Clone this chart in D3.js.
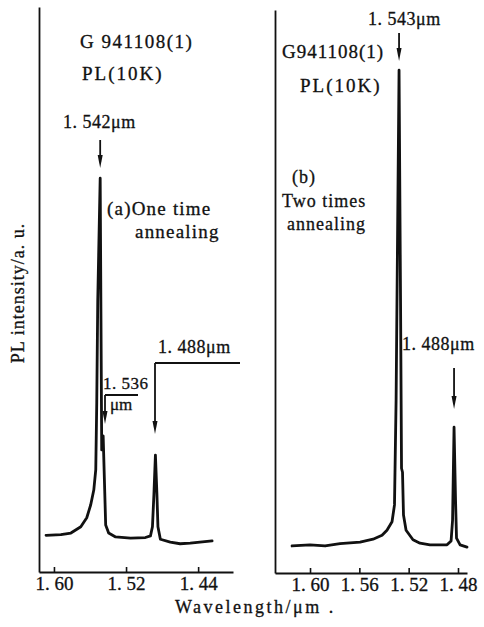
<!DOCTYPE html>
<html>
<head>
<meta charset="utf-8">
<script src="https://cdn.jsdelivr.net/npm/d3@7/dist/d3.min.js"></script>
<style>
  body { margin: 0; background: #fff; }
  svg text { font-family: "Liberation Serif", "Times New Roman", serif; fill: #111; stroke: #111; stroke-width: 0.3; }
</style>
</head>
<body>
<div id="chart"></div>
<script>
// (a) one time annealing - wavelength (um) and PL intensity (a.u.)
let waveA = [1.6088, 1.5923, 1.5812, 1.5702, 1.5636, 1.5592, 1.5558, 1.5536, 1.5525, 1.5514, 1.5487,
  1.5470, 1.5454, 1.5437, 1.5426, 1.5393, 1.5316, 1.5150, 1.4985, 1.4929, 1.4907, 1.4891, 1.4874,
  1.4857, 1.4846, 1.4819, 1.4709, 1.4600, 1.4488, 1.4245];
let intA = [6.5, 6.6, 6.9, 8.0, 9.6, 11.9, 14.5, 18.1, 30.0, 48.1, 69.7,
  21.6, 24.1, 14.5, 8.3, 6.9, 6.2, 6.0, 6.1, 6.4, 8.0, 13.6, 20.7,
  13.6, 8.0, 5.8, 5.3, 5.0, 5.1, 5.5];

// (b) two times annealing
let waveB = [1.6146, 1.6000, 1.5878, 1.5757, 1.5594, 1.5489, 1.5416, 1.5376, 1.5335, 1.5315, 1.5302,
  1.5278, 1.5266, 1.5258, 1.5250, 1.5242, 1.5221, 1.5165, 1.5108, 1.5027, 1.4889, 1.4856, 1.4844,
  1.4832, 1.4820, 1.4812, 1.4783, 1.4727];
let intB = [4.8, 5.0, 4.8, 5.2, 5.5, 6.0, 6.7, 7.6, 9.1, 12.1, 30.7,
  89.3, 48.5, 18.6, 17.9, 10.3, 7.6, 5.9, 5.3, 5.0, 5.0, 5.7, 9.4,
  25.9, 13.0, 6.2, 5.0, 4.6];

let ticksA = [1.60, 1.52, 1.44];
let ticksB = [1.60, 1.56, 1.52, 1.48];

let svg = d3.select("#chart").append("svg")
  .attr("width", 484)
  .attr("height", 627);

let fmt = d => "1. " + d3.format(".2f")(d).slice(2);

function panel(waves, ints, ticks, xDomain, xRange, yRange) {
  let x = d3.scaleLinear().domain(xDomain).range(xRange);
  let y = d3.scaleLinear().domain([0, 100]).range(yRange);

  // x axis with small ticks pointing inward
  let gx = svg.append("g")
    .attr("transform", "translate(0," + yRange[0] + ")")
    .call(d3.axisBottom(x).tickValues(ticks).tickFormat(fmt)
      .tickSizeInner(-5).tickSizeOuter(0).tickPadding(5));
  gx.select(".domain").attr("stroke", "#111").attr("stroke-width", 2.2);
  gx.selectAll(".tick line").attr("stroke", "#111").attr("stroke-width", 1.6);
  gx.selectAll(".tick text")
    .attr("font-size", 19)
    .attr("font-family", "Liberation Serif")
    .attr("fill", "#111");

  // y axis, plain line
  let gy = svg.append("g")
    .attr("transform", "translate(" + xRange[0] + ",0)")
    .call(d3.axisLeft(y).tickValues([]).tickSizeOuter(0));
  gy.select(".domain").attr("stroke", "#111").attr("stroke-width", 1.8);

  let pts = waves.map((w, i) => [w, ints[i]]);
  let line = d3.line()
    .x(d => x(d[0]))
    .y(d => y(d[1]));

  svg.append("path")
    .datum(pts)
    .attr("d", line)
    .attr("fill", "none")
    .attr("stroke", "#111")
    .attr("stroke-width", 2.8)
    .attr("stroke-linejoin", "round")
    .attr("stroke-linecap", "round");

  return { x: x, y: y };
}

let pa = panel(waveA, intA, ticksA, [1.6166, 1.4013], [39, 233], [572, 7]);
let pb = panel(waveB, intB, ticksB, [1.6284, 1.4727], [275, 467], [573, 10]);

// text helper
function label(txt, xx, yy, size, spacing) {
  svg.append("text")
    .attr("x", xx)
    .attr("y", yy)
    .attr("font-size", size)
    .attr("letter-spacing", spacing || 0)
    .text(txt);
}

// arrow pointing down, ending at y1
function arrow(xx, y0, y1) {
  svg.append("path")
    .attr("d", "M" + xx + "," + y0 + "V" + (y1 - 6))
    .attr("stroke", "#111").attr("stroke-width", 1.8).attr("fill", "none");
  svg.append("path")
    .attr("d", "M" + (xx - 2.5) + "," + (y1 - 13) + "L" + (xx + 2.5) + "," + (y1 - 13) + "L" + xx + "," + y1 + "Z")
    .attr("fill", "#111");
}

// panel (a) annotations
label("G 941108(1)", 80, 48, 19, 1.5);
label("PL(10K)", 82, 80, 19, 2);
label("1. 542\u03bcm", 63, 128, 18, 0.5);
arrow(pa.x(1.5487), 140, 168);
label("(a)One time", 107, 215, 19, 1.2);
label("annealing", 135, 238, 19, 1.2);
label("1. 536", 103, 389, 17, 0.5);
label("\u03bcm", 110, 410, 17, 0);
svg.append("path").attr("d", "M138,395H105")
  .attr("stroke", "#111").attr("stroke-width", 1.8);
arrow(105, 395, 424);
label("1. 488\u03bcm", 158, 353, 18, 0.5);
svg.append("path").attr("d", "M240,363H155")
  .attr("stroke", "#111").attr("stroke-width", 1.8);
arrow(155, 363, 434);

// panel (b) annotations
label("1. 543\u03bcm", 368, 25, 18, 0.5);
arrow(pb.x(1.5278), 33, 61);
label("G941108(1)", 282, 58, 19, 1);
label("PL(10K)", 300, 92, 19, 2);
label("(b)", 292, 183, 18, 1);
label("Two times", 282, 207, 18, 1);
label("annealing", 287, 230, 18, 1);
label("1. 488\u03bcm", 402, 350, 18, 0.5);
arrow(pb.x(1.4832), 368, 409);

// axis titles
svg.append("text")
  .attr("transform", "translate(24,293) rotate(-90)")
  .attr("text-anchor", "middle")
  .attr("font-size", 18)
  .attr("letter-spacing", 1)
  .text("PL intensity/a. u.");

label("Wavelength/\u03bcm .", 175, 613, 18, 2.5);
</script>
</body>
</html>
